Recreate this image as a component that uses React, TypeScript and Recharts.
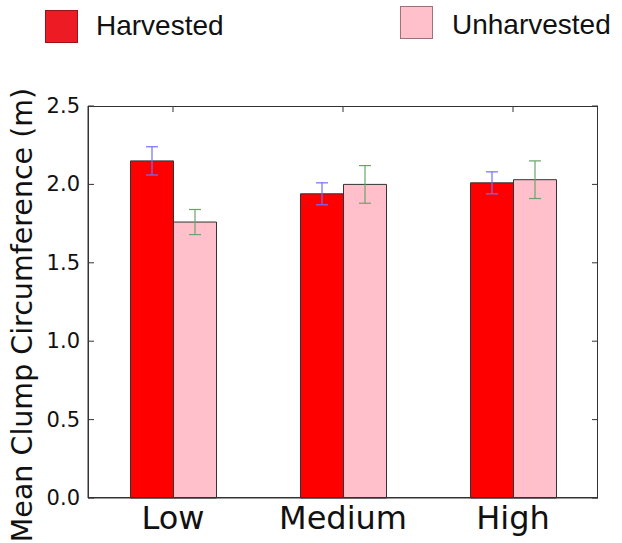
import React from 'react';
import { BarChart, Bar, XAxis, YAxis, ErrorBar } from 'recharts';

// Harvest intensity groups
const categories = ['Low', 'Medium', 'High'];

// Mean clump circumference (m) and error half-widths
const harvested = [2.15, 1.94, 2.01];
const harvestedErr = [0.09, 0.07, 0.07];
const unharvested = [1.76, 2.0, 2.03];
const unharvestedErr = [0.08, 0.12, 0.12];

const yTicks = [0, 0.5, 1.0, 1.5, 2.0, 2.5];

const data = categories.map((name, i) => ({
  name,
  h: harvested[i],
  hErr: harvestedErr[i],
  u: unharvested[i],
  uErr: unharvestedErr[i],
}));

const W = 622;
const H = 543;
const PLOT_LEFT = 88;
const PLOT_RIGHT = 598;
const PLOT_TOP = 106;
const PLOT_BOTTOM = 498;
const TICK_LEN = 6;
const AXIS_COLOR = '#333';

const YTick = (props: any) => {
  const { x, y, payload } = props;
  return (
    <g>
      <text
        x={x}
        y={y}
        textAnchor="end"
        dominantBaseline="central"
        fontFamily="'DejaVu Sans', sans-serif"
        fontSize={21}
        fill="#111"
      >
        {Number(payload.value).toFixed(1)}
      </text>
      <line x1={PLOT_LEFT} x2={PLOT_LEFT + TICK_LEN} y1={y} y2={y} stroke={AXIS_COLOR} />
      <line x1={PLOT_RIGHT - TICK_LEN} x2={PLOT_RIGHT} y1={y} y2={y} stroke={AXIS_COLOR} />
    </g>
  );
};

const XTick = (props: any) => {
  const { x, payload } = props;
  return (
    <g>
      <text
        x={x}
        y={529}
        textAnchor="middle"
        fontFamily="'DejaVu Sans', sans-serif"
        fontSize={32}
        fill="#111"
      >
        {payload.value}
      </text>
      <line x1={x} x2={x} y1={PLOT_TOP} y2={PLOT_TOP + TICK_LEN} stroke={AXIS_COLOR} />
    </g>
  );
};

export default function App() {
  return (
    <div style={{ position: 'absolute', left: 0, top: 0, width: W, height: H, background: '#fff' }}>
      <BarChart
        width={W}
        height={H}
        data={data}
        margin={{ top: PLOT_TOP, right: W - PLOT_RIGHT, bottom: 15, left: PLOT_LEFT - 60 }}
        barCategoryGap="25%"
        barGap={0}
      >
        <XAxis
          dataKey="name"
          height={30}
          axisLine={{ stroke: AXIS_COLOR }}
          tickLine={false}
          tick={<XTick />}
          interval={0}
        />
        <YAxis
          width={60}
          domain={[0, 2.5]}
          ticks={yTicks}
          type="number"
          axisLine={{ stroke: AXIS_COLOR }}
          tickLine={false}
          tickSize={0}
          tickMargin={8}
          tick={<YTick />}
          interval={0}
        />
        <Bar dataKey="h" fill="#ff0000" stroke="#333" strokeWidth={1} isAnimationActive={false}>
          <ErrorBar dataKey="hErr" direction="y" width={6} stroke="#6f6fff" strokeWidth={1.2} />
        </Bar>
        <Bar dataKey="u" fill="#ffc0cb" stroke="#333" strokeWidth={1} isAnimationActive={false}>
          <ErrorBar dataKey="uErr" direction="y" width={6} stroke="#6aa36a" strokeWidth={1.2} />
        </Bar>
      </BarChart>
      <svg
        width={W}
        height={H}
        style={{ position: 'absolute', left: 0, top: 0, pointerEvents: 'none' }}
      >
        {/* plot frame */}
        <rect
          x={PLOT_LEFT + 0.5}
          y={PLOT_TOP + 0.5}
          width={PLOT_RIGHT - PLOT_LEFT - 1}
          height={PLOT_BOTTOM - PLOT_TOP - 1}
          fill="none"
          stroke={AXIS_COLOR}
          strokeWidth={1}
        />
        <rect x={45.5} y={10.5} width={32} height={32} fill="#ed1c24" stroke="#a01018" strokeWidth={1} />
        <text x={96} y={35} fontFamily="'Liberation Sans', Arial, sans-serif" fontSize={28} fill="#111">
          Harvested
        </text>
        <rect x={400.5} y={6.5} width={32} height={32} fill="#ffc0cb" stroke="#a07078" strokeWidth={1} />
        <text x={452} y={34} fontFamily="'Liberation Sans', Arial, sans-serif" fontSize={28} fill="#111">
          Unharvested
        </text>
        <text
          transform="translate(22,315) rotate(-90)"
          textAnchor="middle"
          dominantBaseline="central"
          fontFamily="'DejaVu Sans', sans-serif"
          fontSize={28.5}
          fill="#111"
        >
          Mean Clump Circumference (m)
        </text>
      </svg>
    </div>
  );
}
